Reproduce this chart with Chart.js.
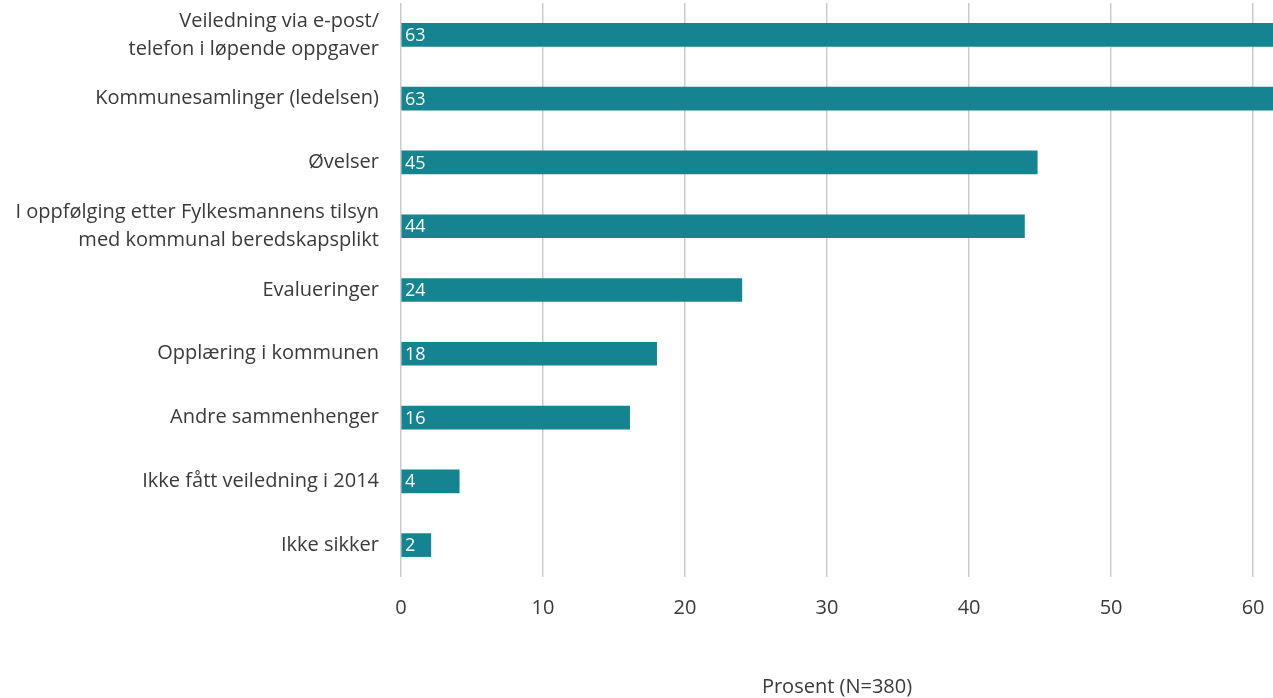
<!DOCTYPE html>
<html>
<head>
<meta charset="utf-8">
<script src="https://cdn.jsdelivr.net/npm/chart.js@4"></script>
<style>
  html, body { margin: 0; padding: 0; background: #fff; }
  .canvas { width: 1273px; height: 698px; }
</style>
</head>
<body>
<div class="canvas"><canvas id="guidanceChart"></canvas></div>
<script>
const categories = [
  ['Veiledning via e-post/', 'telefon i løpende oppgaver'],
  'Kommunesamlinger (ledelsen)',
  'Øvelser',
  ['I oppfølging etter Fylkesmannens tilsyn', 'med kommunal beredskapsplikt'],
  'Evalueringer',
  'Opplæring i kommunen',
  'Andre sammenhenger',
  'Ikke fått veiledning i 2014',
  'Ikke sikker'
];
const percentValues = [63, 63, 44.8, 43.9, 24, 18, 16.1, 4.1, 2.1];
const xTicks = [0, 10, 20, 30, 40, 50, 60];
const axisTitle = 'Prosent (N=380)';

const FONT = "'Open Sans', sans-serif";
const TEXT = '#3a3a3a';

// white value labels at the start of each bar
const valueLabels = {
  id: 'valueLabels',
  afterDatasetsDraw(chart) {
    const ctx = chart.ctx;
    const meta = chart.getDatasetMeta(0);
    const x0 = chart.scales.x.getPixelForValue(0);
    ctx.save();
    ctx.fillStyle = '#ffffff';
    ctx.font = '18px ' + FONT;
    ctx.textAlign = 'left';
    ctx.textBaseline = 'middle';
    meta.data.forEach((bar, i) => {
      ctx.fillText(String(Math.round(percentValues[i])), x0 + 4, bar.y + 1);
    });
    ctx.restore();
  }
};

const ctx = document.getElementById('guidanceChart').getContext('2d');
new Chart(ctx, {
  type: 'bar',
  data: {
    labels: categories,
    datasets: [{
      data: percentValues,
      backgroundColor: '#158490',
      borderWidth: 0,
      barThickness: 23
    }]
  },
  options: {
    indexAxis: 'y',
    responsive: true,
    maintainAspectRatio: false,
    animation: false,
    layout: { padding: { top: 3, right: 0, bottom: 0, left: 0 } },
    plugins: {
      legend: { display: false },
      tooltip: { enabled: false }
    },
    scales: {
      x: {
        min: 0,
        max: 61.4,
        afterBuildTicks(scale) {
          scale.ticks = xTicks.map(v => ({ value: v }));
        },
        afterFit(scale) {
          scale.height = 121;
          scale.paddingLeft = 0;
          scale.paddingRight = 0;
        },
        grid: { color: '#cccccc', lineWidth: 1.5, drawTicks: false },
        border: { display: false },
        ticks: {
          padding: 19,
          color: TEXT,
          font: { family: FONT, size: 20 }
        },
        title: {
          display: true,
          text: axisTitle,
          color: TEXT,
          padding: { top: 0, bottom: -1 },
          font: { family: FONT, size: 20 }
        }
      },
      y: {
        afterFit(scale) {
          scale.width = 401;
          scale.paddingTop = 0;
          scale.paddingBottom = 0;
        },
        grid: { display: false, drawTicks: false },
        border: { display: false },
        ticks: {
          padding: 22,
          color: TEXT,
          font: { family: FONT, size: 20, lineHeight: 1.4 }
        }
      }
    }
  },
  plugins: [valueLabels]
});
</script>
</body>
</html>
